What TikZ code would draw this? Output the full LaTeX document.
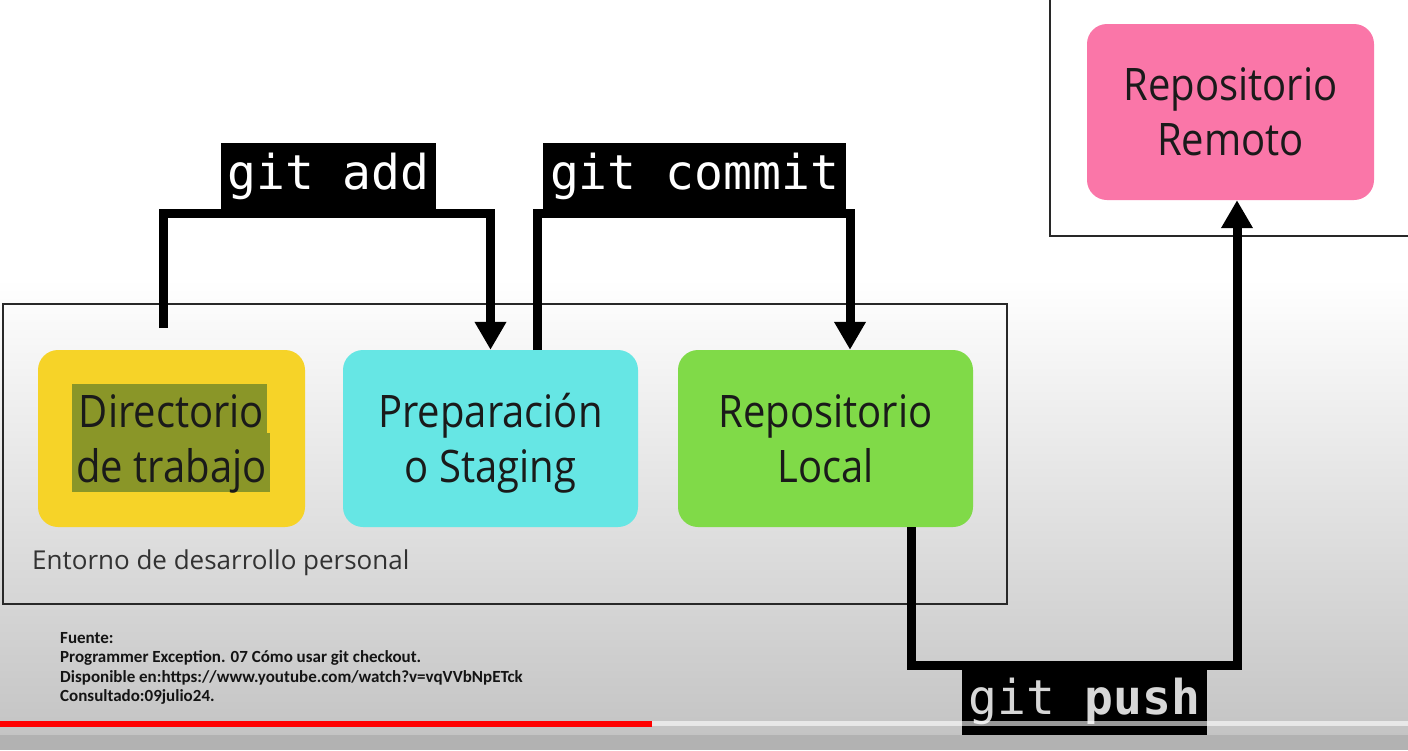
\documentclass[tikz,border=0pt]{standalone}
\usepackage{fontspec}
\setmainfont{Open Sans}
\newfontfamily\monof{DejaVu Sans Mono}
\newfontfamily\notef{Carlito}
\usetikzlibrary{arrows.meta,calc}
\definecolor{ybox}{RGB}{246,211,40}
\definecolor{cbox}{RGB}{102,230,228}
\definecolor{gbox}{RGB}{128,218,72}
\definecolor{pbox}{RGB}{250,118,168}
\definecolor{hili}{RGB}{138,150,40}
\definecolor{bggray}{RGB}{196,196,196}
\definecolor{botgray}{RGB}{178,178,178}
\definecolor{txt}{RGB}{26,26,26}
\definecolor{envtxt}{RGB}{50,50,50}
\definecolor{pushtxt}{RGB}{215,215,215}
\definecolor{notetxt}{RGB}{20,20,20}
\definecolor{frame}{RGB}{40,40,40}
\tikzset{
  stagebox/.style={rounded corners=20pt, minimum width=#1, minimum height=177pt, inner sep=0pt},
  stagetext/.style={align=center, text=txt, inner sep=0pt, font=\fontsize{40}{49}\selectfont, yscale=1.12, transform shape},
  cmdlabel/.style={fill=black, text=white, inner sep=0pt, minimum height=67pt, font=\monof\fontsize{48}{50}\selectfont},
  conn/.style={line width=9pt, draw=black},
  conntip/.style={conn, -{Triangle[width=30pt,length=28pt]}},
  framebox/.style={draw=frame, line width=1.2pt},
}
\begin{document}
\begin{tikzpicture}[x=1pt,y=-1pt]
\useasboundingbox (0,0) rectangle (1408,750);
\clip (0,0) rectangle (1408,750);
% background
\fill[white] (0,0) rectangle (1408,280);
\shade[top color=white, bottom color=bggray] (0,279) rectangle (1408,736);
\fill[botgray] (0,735) rectangle (1408,750);
% frames
\draw[framebox] (3,304) rectangle (1007,604);
\draw[framebox] (1050,-10) rectangle (1420,236);
% boxes
\node[stagebox=267pt, fill=ybox] (wd) at (171.5,438.5) {};
\fill[hili] (72,384) rectangle (267,434);
\fill[hili] (72,433) rectangle (270,492);
\node[stagetext] (wdtext) at (171.5,444) {Directorio\\de trabajo};
\node[stagebox=295pt, fill=cbox] (prep) at (490.5,438.5) {};
\node[stagetext] (preptext) at (490.5,443.5) {Preparación\\o Staging};
\node[stagebox=295pt, fill=gbox] (local) at (825.5,438.5) {};
\node[stagetext] (localtext) at (825.5,439) {Repositorio\\Local};
\node[stagebox=287pt, minimum height=176pt, fill=pbox] (remote) at (1230.5,112) {};
\node[stagetext] (remotetext) at (1230.5,111.5) {Repositorio\\Remoto};
\node[anchor=west, text=envtxt, font=\fontsize{26}{30}\selectfont, inner sep=0pt] (env) at (32,563) {Entorno de desarrollo personal};
% labels
\node[cmdlabel, minimum width=215pt] (addl) at (328.5,176.5) {git add};
\node[cmdlabel, minimum width=303pt] (commitl) at (694.5,176.5) {git commit};
\node[cmdlabel, minimum width=245pt, text=pushtxt] (pushl) at (1084.5,701.5) {git {\bfseries push}};
% connectors
\coordinate (addstart) at (163.5,328);
\coordinate (addbar) at (0,213.5);
\coordinate (commitstart) at (537.5,350);
\coordinate (commitx) at (850,0);
\coordinate (pushstart) at (911,527);
\coordinate (pushbar) at (0,665);
\coordinate (pushx) at (1237,0);
\draw[conntip] (addstart) |- (addbar -| prep.north) -- (prep.north);
\draw[conntip] (commitstart) |- (addbar -| commitx) -- (commitx |- local.north);
\draw[conntip] (pushstart) |- (pushbar -| pushx) -- (pushx |- remote.south);
% footnote
\node[anchor=north west, align=left, inner sep=0pt, text=notetxt, font=\notef\bfseries\fontsize{17}{19.5}\selectfont] (note) at (60,632) {Fuente:\\Programmer Exception. 07 Cómo usar git checkout.\\Disponible en:https://www.youtube.com/watch?v=vqVVbNpETck\\Consultado:09julio24.};
% progress bar
\fill[red] (0,721) rectangle (652,727);
\fill[white, opacity=0.6] (652,721) rectangle (1408,726);
\end{tikzpicture}
\end{document}
